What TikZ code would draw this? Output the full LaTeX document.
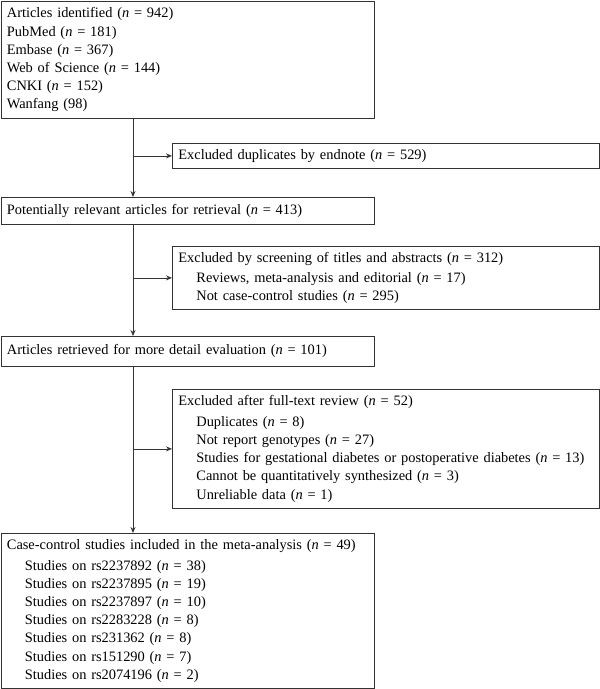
\documentclass[tikz,border=0pt]{standalone}
\usepackage{fontspec}
\setmainfont{Liberation Serif}
\usetikzlibrary{arrows.meta}
\newcommand{\ncount}[1]{(\textit{n}~=~#1)}
\newcommand{\sub}{\hspace*{1.25em}}
\begin{document}
\begin{tikzpicture}[x=1pt,y=-1pt,>={Stealth[length=6pt,width=5pt]},line width=0.8pt,
	box/.style={draw=black!80,anchor=north west,align=left,inner xsep=6pt,inner ysep=0pt,
		font=\fontsize{14.4}{18.2}\selectfont},
	left box/.style={box,text width=361.5pt,minimum width=373.5pt},
	right box/.style={box,text width=415pt,minimum width=427pt}]
	\useasboundingbox (0,0) rectangle (600,689);
	\coordinate (t) at (133,0);
	\node[left box,minimum height=117pt] (ident) at (0.5,1) {Articles identified \ncount{942}\\
		PubMed \ncount{181}\\ Embase \ncount{367}\\ Web of Science \ncount{144}\\
		CNKI \ncount{152}\\ Wanfang (98)};
	\node[right box,minimum height=25pt] (dup) at (172,143) {Excluded duplicates by endnote \ncount{529}};
	\node[left box,minimum height=27pt] (relev) at (0.5,197) {Potentially relevant articles for retrieval \ncount{413}};
	\node[right box,minimum height=63pt] (screen) at (172,246) {Excluded by screening of titles and abstracts \ncount{312}\\[2pt]
		\sub Reviews, meta-analysis and editorial \ncount{17}\\ \sub Not case-control studies \ncount{295}};
	\node[left box,minimum height=30pt] (detail) at (0.5,336) {Articles retrieved for more detail evaluation \ncount{101}};
	\node[right box,minimum height=119pt] (full) at (172,389) {Excluded after full-text review \ncount{52}\\[2.5pt]
		\sub Duplicates \ncount{8}\\ \sub Not report genotypes \ncount{27}\\
		\sub Studies for gestational diabetes or postoperative diabetes \ncount{13}\\
		\sub Cannot be quantitatively synthesized \ncount{3}\\ \sub Unreliable data \ncount{1}};
	\node[left box,minimum height=155pt] (incl) at (0.5,533) {Case-control studies included in the meta-analysis \ncount{49}\\[2.5pt]
		\sub Studies on rs2237892 \ncount{38}\\ \sub Studies on rs2237895 \ncount{19}\\
		\sub Studies on rs2237897 \ncount{10}\\ \sub Studies on rs2283228 \ncount{8}\\
		\sub Studies on rs231362 \ncount{8}\\ \sub Studies on rs151290 \ncount{7}\\
		\sub Studies on rs2074196 \ncount{2}};
	% main line
	\draw[->,black!80] (ident.south -| t) -- (relev.north -| t);
	\draw[->,black!80] (relev.south -| t) -- (detail.north -| t);
	\draw[->,black!80] (detail.south -| t) -- (incl.north -| t);
	% exclusions
	\foreach \b in {dup,screen,full}
	\draw[->,black!80] (\b.west -| t) -- (\b.west);
\end{tikzpicture}
\end{document}
